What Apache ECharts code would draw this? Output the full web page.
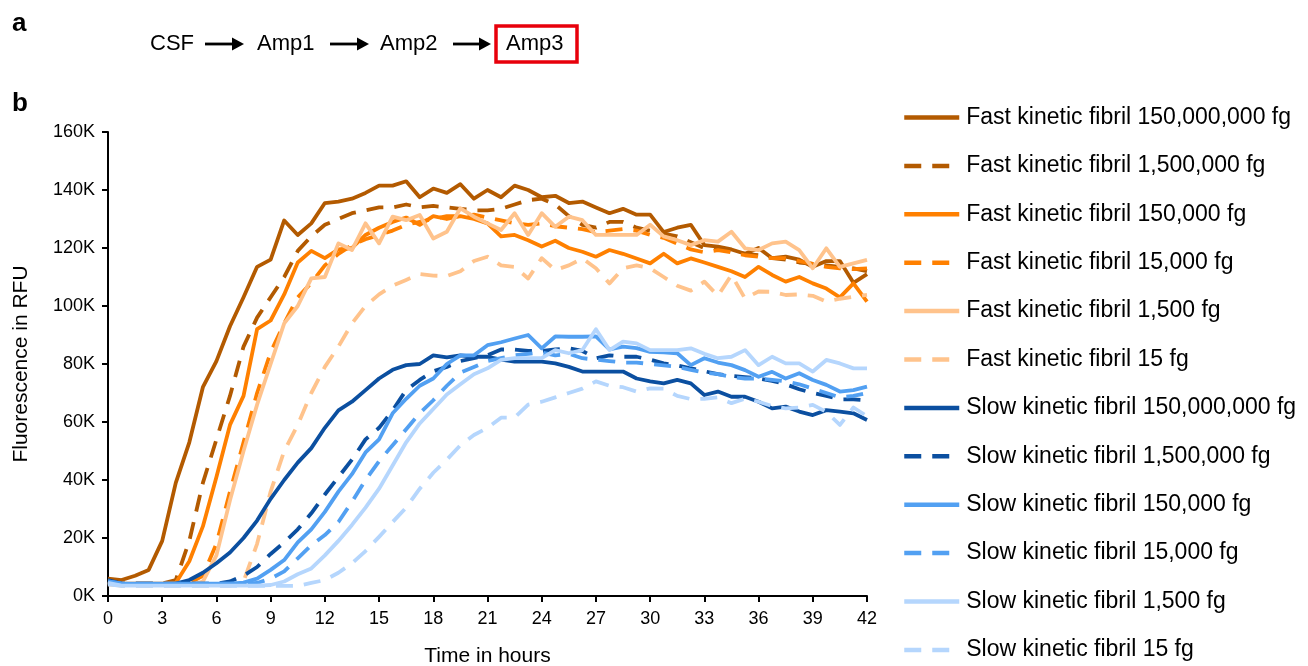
<!DOCTYPE html>
<html>
<head>
<meta charset="utf-8">
<script src="https://cdn.jsdelivr.net/npm/echarts@6/dist/echarts.min.js"></script>
<style>
html,body{margin:0;padding:0;background:#fff;}
#chart{width:1308px;height:666px;}
</style>
</head>
<body>
<div id="chart"></div>
<script>
// Time points (hours)
const times = [0,0.75,1.5,2.25,3,3.75,4.5,5.25,6,6.75,7.5,8.25,9,9.75,10.5,11.25,12,12.75,13.5,14.25,15,15.75,16.5,17.25,18,18.75,19.5,20.25,21,21.75,22.5,23.25,24,24.75,25.5,26.25,27,27.75,28.5,29.25,30,30.75,31.5,32.25,33,33.75,34.5,35.25,36,36.75,37.5,38.25,39,39.75,40.5,41.25,42];

// Fluorescence values in thousands of RFU
const fast150M = [6,5.5,7,9,19,39,53,72,81,93,103,113.5,116,129.5,124.5,128.5,135.5,136,137,139,141.5,141.5,143,137.5,140.5,139,142,137,140,137.5,141.5,140,137.5,138,135.5,136,134,132,133.5,131.5,131.5,125.5,127,128,121,120.5,119.5,118,120,116.5,117,116,113.5,115.5,115.5,108,111];
const fast1500k = [5,4.3,4.3,4.3,4.3,5.5,19,39,54,69,86,96,103,110,119,124,128,130,132,133,134,134,135,134,134.5,134,133.5,133,133,133.5,135,136.5,137,135,131,128,127,129,129,127,126,125,124,122,120,120,119,118,117.5,116.5,116,115,114.5,114,113.5,113,112];
const fast150k = [5,4.3,4.3,4.3,4.3,4.5,12,24,41,59,69,92,95,104,115,119,116.5,119.5,120,124.5,127,129,130.5,128,131,130,131,130,128.5,124,124.5,122.7,120.5,122.5,120,118.7,117,119.3,118,116.4,114.7,118,114.7,116.4,115,113.5,112,110,113.5,110.7,108.4,110,107.8,106,103,107.8,101.5];
const fast15k = [5,4.3,4.3,4.3,4.3,4.3,4.5,7,18,36,53,70,84,94,103,108,114,118,121,123,124.5,126,128,129,130,131,131,131.5,130.5,129.5,128.5,128,128.5,127.5,127,126.5,125.5,126,126.5,126,124.5,123.5,121.5,119.5,118.5,119.3,118.5,117.5,117,116.5,116.5,115.5,114.5,113.5,113,112.7,113];
const fast1500 = [4.5,3.8,3.8,3.8,3.8,3.8,3.8,5,14,33,50,66,80,94,100,109.5,110,121.6,119.3,128.5,121.6,130.8,129.6,131.4,123.3,125.6,133.7,130.8,128.5,126.2,132,124.5,132,127.3,130.8,129.6,124.5,124.5,124.5,124.5,128,124,122.7,121,122.7,122.2,125.6,119.9,119.3,121.6,122.2,119.3,113,119.9,113.5,114.7,115.9];
const fast15 = [4,3.6,3.6,3.6,3.6,3.6,3.6,3.6,3.6,3.6,5,18,36,50,59,70,79,86,94,100,104,107,109,111,110.5,110.3,112,115.5,117,114,113.5,109.5,116.5,112.4,114,116.4,113,107.8,113,114,113,110,107,105.3,108.4,103.5,110.7,102.6,105,104.9,103.8,104,103.5,101.5,102.5,103.2,103.8];
const slow150M = [5.5,4.3,4.2,4.2,4.2,4.3,5.5,8,11.3,15,20,26,33.5,40,46,51,58,64,67,71,75,78,79.6,80,83,82.3,83,82.5,82.5,81.5,80.8,80.8,80.8,80.2,79,77.4,77.4,77.4,77.4,75,74,73.3,74.5,73.3,69.3,70.5,68.7,68.7,67,64.7,65.3,63.6,62.4,64.1,63.6,63,60.7];
const slow1500k = [5,4.3,4.3,4.3,4.3,4.3,4.3,4.3,4.3,5,7,10,14.5,18.5,23,28.5,35,41,47,54,58,64,71,74.5,77.5,79,81,82,83,85,85,84.5,84.5,85,85.4,84.5,82,83,82.5,82.5,81.5,80.2,79.5,78.5,77.5,76.5,75.9,75.5,75,74.2,73,71.3,70,69,67.8,67.8,67.5];
const slow150k = [5,4.3,4.3,4.3,4.3,4.3,4.3,4.3,4.3,4.3,4.6,6,9,12.4,18.5,23,29,36,42,49.5,54,63,68,72.5,75,80,83,83,86.5,87.5,88.8,90,85.4,89.5,89.4,89.4,89.5,85,86,85.5,84.2,84,83.7,79.6,82,80.5,79.6,77.9,75.6,77.3,75,76.8,74.5,72.8,70.5,71,72.2];
const slow15k = [5,4.3,4.3,4.3,4.3,4.3,4.3,4.3,4.3,4.3,4.3,4.5,6,8.5,13,17.5,21,25.5,32.5,40,46.5,52,57.5,63,67.5,72.5,77,79,81,82,83,83.5,84,83,83.5,82,81.5,81,80.5,80.5,80,79.5,79,78,77,76.5,75.5,75,75,74.5,74,73,71.5,70,68.5,69,70];
const slow1500 = [4.5,3.6,3.6,3.6,3.6,3.6,3.6,3.6,3.6,3.6,3.6,3.6,3.8,5,7.5,9.5,14,19,24.5,30.5,37,45,53,59.5,64.5,69.5,73,76.5,78.5,81.4,82,82,82,84.8,83.7,84.8,92,84.8,87.7,87.1,84.8,84.8,84.8,85.4,83.5,82,82.5,84.8,79.6,82.5,80.2,80.2,77.4,81.4,80.2,78.5,78.5];
const slow15 = [4,3.5,3.5,3.5,3.5,3.5,3.5,3.5,3.5,3.5,3.5,3.5,3.5,3.5,3.5,4.5,5.5,8,11.3,15.5,20.4,25.5,30.5,37,42.5,47,52,55.5,58,61.5,61.5,66,67,68.5,70,71.5,74,72.5,72,70.5,71.6,71.5,69,67.9,68,68.5,66.5,68,67,65.5,64.7,65,65.9,63.5,59,65,62];

const seriesNames = [
  'Fast kinetic fibril 150,000,000 fg','Fast kinetic fibril 1,500,000 fg','Fast kinetic fibril 150,000 fg',
  'Fast kinetic fibril 15,000 fg','Fast kinetic fibril 1,500 fg','Fast kinetic fibril 15 fg',
  'Slow kinetic fibril 150,000,000 fg','Slow kinetic fibril 1,500,000 fg','Slow kinetic fibril 150,000 fg',
  'Slow kinetic fibril 15,000 fg','Slow kinetic fibril 1,500 fg','Slow kinetic fibril 15 fg'
];
const seriesValues = [fast150M,fast1500k,fast150k,fast15k,fast1500,fast15,slow150M,slow1500k,slow150k,slow15k,slow1500,slow15];
const seriesColors = ['#B35A00','#B35A00','#FF8000','#FF8000','#FFC38C','#FFC38C','#0B4FA0','#0B4FA0','#52A0F2','#52A0F2','#B5D6FD','#B5D6FD'];
const seriesDashed = [false,true,false,true,false,true,false,true,false,true,false,true];
const xTicks = {min:0,max:42,interval:3};
const yTicks = {min:0,max:160,interval:20};

const FONT = '"Liberation Sans", Arial, sans-serif';

const series = seriesNames.map((name,k)=>({
  name: name,
  type: 'line',
  data: times.map((t,i)=>[t, seriesValues[k][i]]),
  symbol: 'none',
  showSymbol: false,
  smooth: false,
  lineStyle: {color: seriesColors[k], width: 3.8, type: seriesDashed[k] ? [17,11] : 'solid', cap: 'butt', join: 'round'},
  itemStyle: {color: seriesColors[k]},
  emphasis: {disabled: true},
  z: 2
}));

function arrow(x1, x2, y) {
  return {
    type: 'group',
    children: [
      {type:'line', shape:{x1:x1, y1:y, x2:x2-9, y2:y}, style:{stroke:'#000', lineWidth:2.8}},
      {type:'polygon', shape:{points:[[x2-12,y-6.5],[x2,y],[x2-12,y+6.5]]}, style:{fill:'#000'}}
    ]
  };
}

const chart = echarts.init(document.getElementById('chart'), null, {renderer:'canvas'});
chart.setOption({
  backgroundColor: '#ffffff',
  animation: false,
  textStyle: {fontFamily: FONT},
  grid: {left:108, right:441, top:132, bottom:70, outerBoundsMode: 'none'},
  legend: {
    data: seriesNames,
    orient: 'vertical',
    left: 902,
    top: 106,
    height: 600,
    padding: 0,
    itemWidth: 55,
    itemHeight: 14,
    itemGap: 25.4,
    selectedMode: false,
    itemStyle: {color: 'rgba(0,0,0,0)', borderWidth: 0, opacity: 0},
    lineStyle: {width: 4.5},
    textStyle: {fontFamily: FONT, fontSize: 23, color:'#000', lineHeight: 22, padding: [0,0,0,2]}
  },
  xAxis: {
    type: 'value',
    min: xTicks.min, max: xTicks.max, interval: xTicks.interval,
    name: 'Time in hours',
    nameLocation: 'middle',
    nameGap: 50,
    nameTextStyle: {fontFamily: FONT, fontSize: 21, color:'#000'},
    axisLine: {show:true, onZero:false, lineStyle:{color:'#000', width:2}},
    axisTick: {show:true, inside:false, length:6, lineStyle:{color:'#000', width:2}},
    axisLabel: {fontFamily: FONT, fontSize: 18, color:'#000', margin: 14},
    splitLine: {show:false}
  },
  yAxis: {
    type: 'value',
    min: yTicks.min, max: yTicks.max, interval: yTicks.interval,
    name: 'Fluorescence in RFU',
    nameLocation: 'middle',
    nameGap: 76,
    nameRotate: 90,
    nameTextStyle: {fontFamily: FONT, fontSize: 21, color:'#000'},
    axisLine: {show:true, lineStyle:{color:'#000', width:2}},
    axisTick: {show:true, inside:false, length:6, lineStyle:{color:'#000', width:2}},
    axisLabel: {fontFamily: FONT, fontSize: 18, color:'#000', margin: 13, formatter: v => v + 'K'},
    splitLine: {show:false}
  },
  graphic: [
    {type:'text', left: 12, top: 11, style:{text:'a', fontFamily: FONT, fontSize: 26, fontWeight:'bold', fill:'#000'}},
    {type:'text', left: 12, top: 91, style:{text:'b', fontFamily: FONT, fontSize: 26, fontWeight:'bold', fill:'#000'}},
    {type:'text', left: 150, top: 33, style:{text:'CSF', fontFamily: FONT, fontSize: 22, fill:'#000'}},
    {type:'text', left: 257, top: 33, style:{text:'Amp1', fontFamily: FONT, fontSize: 22, fill:'#000'}},
    {type:'text', left: 380, top: 33, style:{text:'Amp2', fontFamily: FONT, fontSize: 22, fill:'#000'}},
    {type:'text', left: 506, top: 33, style:{text:'Amp3', fontFamily: FONT, fontSize: 22, fill:'#000'}},
    {type:'rect', shape:{x:496, y:26, width:81, height:36}, style:{fill:'none', stroke:'#E8000B', lineWidth:3.5}},
    arrow(205, 244, 44),
    arrow(330, 369, 44),
    arrow(453, 491, 44)
  ],
  series: series
});
</script>
</body>
</html>
